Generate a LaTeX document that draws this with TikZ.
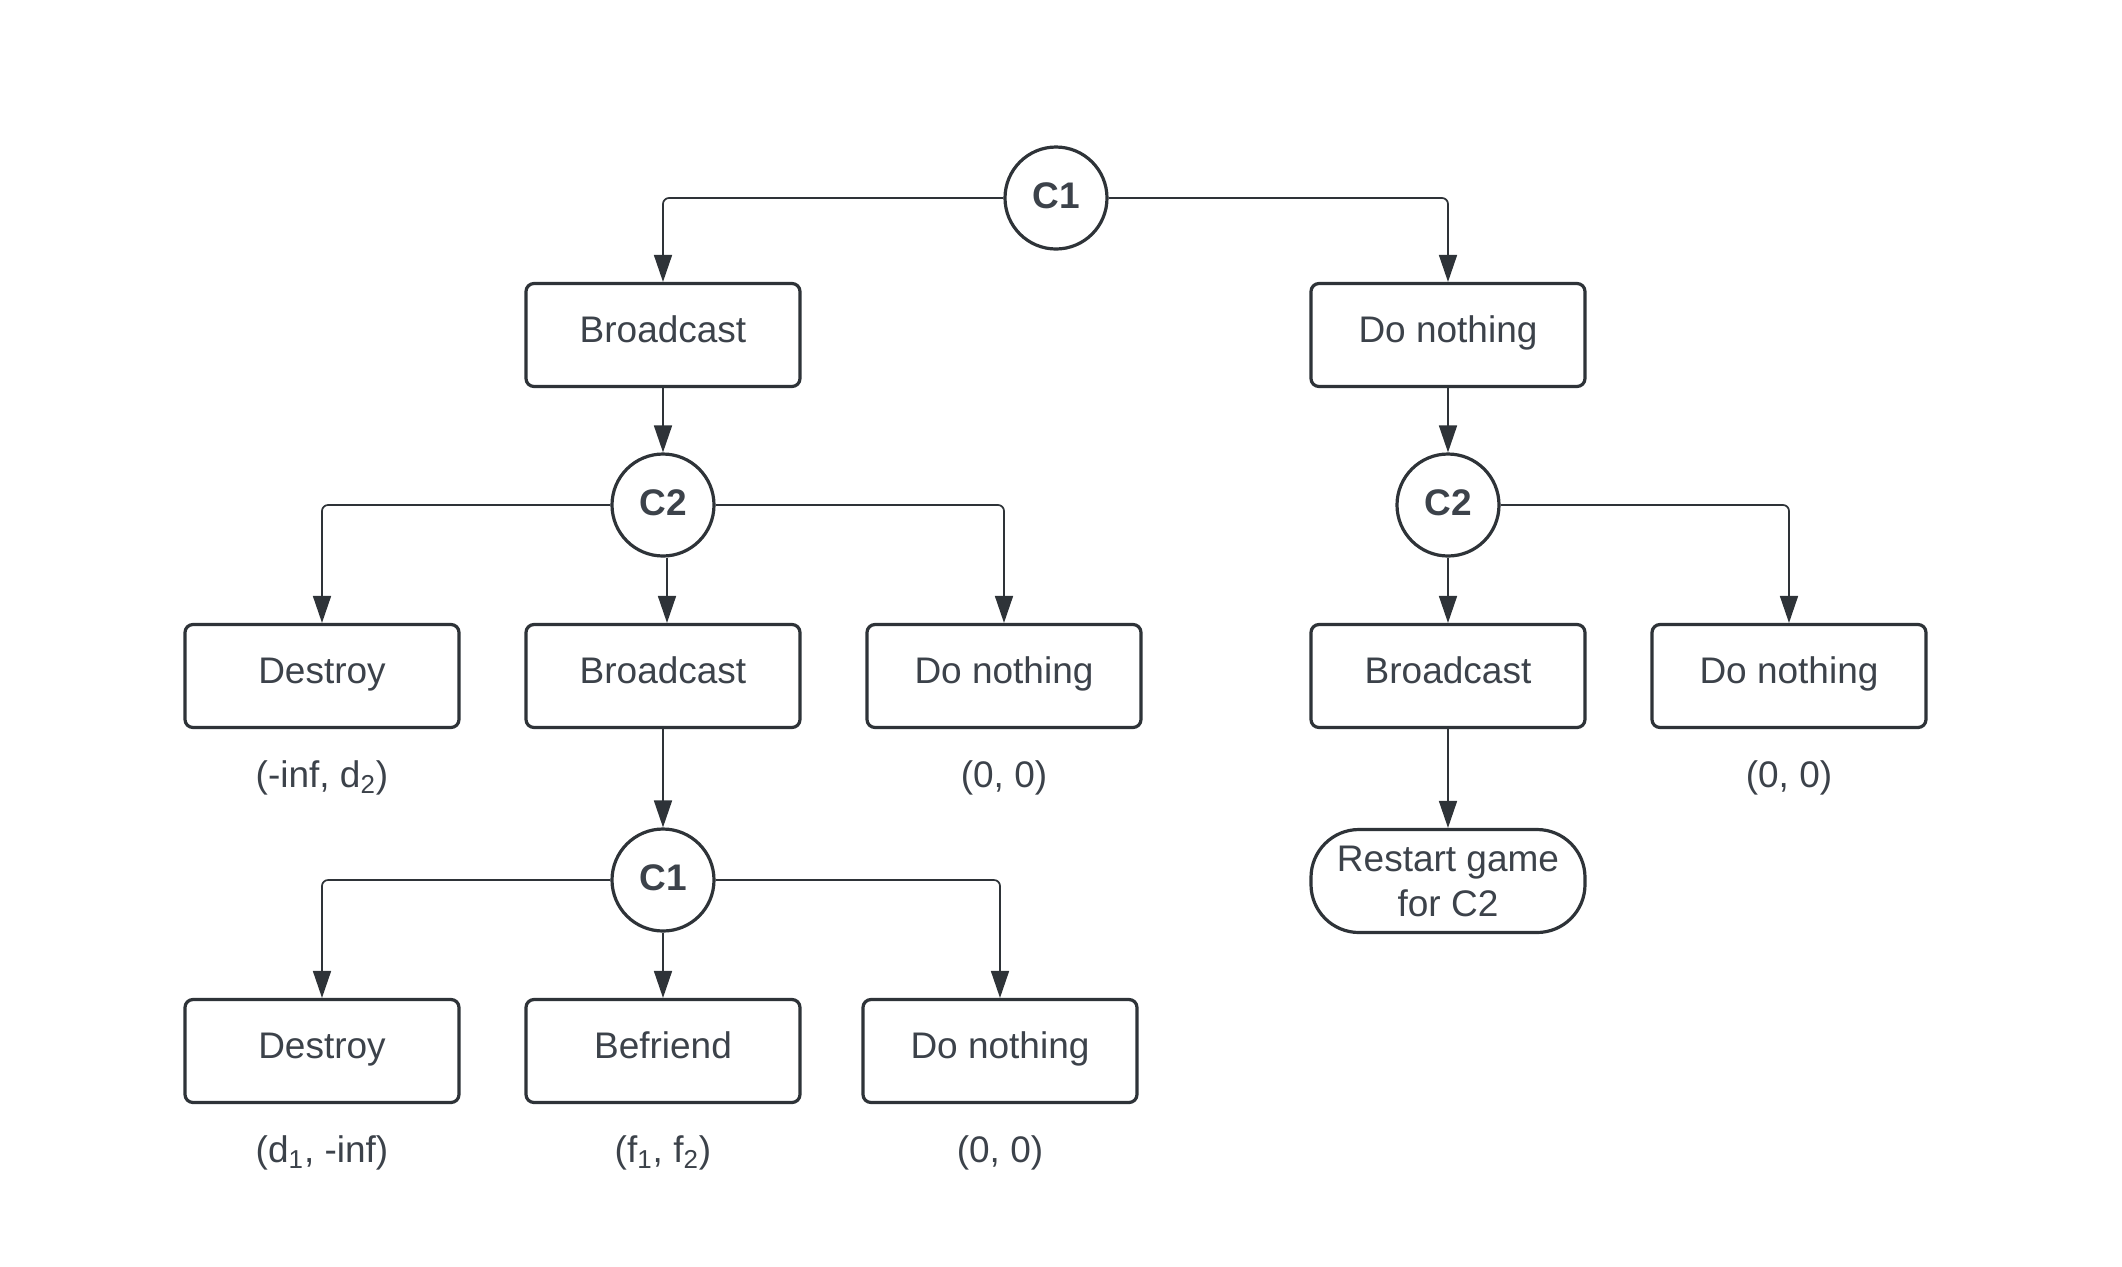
\documentclass[tikz,border=0pt]{standalone}
\usepackage{fontspec}
\setmainfont{Liberation Sans}
\usetikzlibrary{arrows.meta}
\definecolor{linec}{HTML}{2E3338}
\definecolor{textc}{HTML}{3C424A}
\begin{document}
\begin{tikzpicture}[x=0.5pt,y=-0.5pt,
  lbl/.style={text=textc, font=\fontsize{18.5}{22.5}\selectfont},
  box/.style={lbl, draw=linec, line width=1.6pt, rounded corners=4pt, minimum width=137pt, minimum height=51.5pt, inner sep=0pt, text height=14pt, text depth=7pt},
  chance/.style={lbl, circle, draw=linec, line width=1.6pt, minimum size=51pt, inner sep=0pt, text height=14pt, text depth=4pt, font=\fontsize{18.5}{22.5}\selectfont\bfseries},
  pay/.style={lbl, inner sep=0pt},
  conn/.style={draw=linec, line width=0.85pt, rounded corners=3pt, -{Triangle[length=13.5pt,width=9pt]}},
]
\useasboundingbox[fill=white] (0,0) rectangle (2122,1266);

\node[chance] (c1) at (1056,198) {C1};
\node[box] (b1) at (663,335) {Broadcast};
\node[box] (n1) at (1448,335) {Do nothing};
\node[chance] (c2l) at (663,505) {C2};
\node[chance] (c2r) at (1448,505) {C2};

\node[box] (d2) at (322,676) {Destroy};
\node[box] (b2) at (663,676) {Broadcast};
\node[box] (n2) at (1004,676) {Do nothing};
\node[box] (b3) at (1448,676) {Broadcast};
\node[box] (n3) at (1789,676) {Do nothing};

\node[pay] (pd2) at (322,778) {(-inf, d\textsubscript{2})};
\node[pay] (pn2) at (1004,778) {(0, 0)};
\node[pay] (pn3) at (1789,778) {(0, 0)};

\node[chance] (c1b) at (663,880) {C1};
\node[lbl, draw=linec, line width=1.6pt, rounded corners=24pt, minimum width=137pt, minimum height=51.5pt, inner sep=0pt, align=center] (r) at (1448,881) {Restart game\\for C2};

\node[box] (d3) at (322,1051) {Destroy};
\node[box] (f3) at (663,1051) {Befriend};
\node[box] (n4) at (1000,1051) {Do nothing};

\node[pay] (pd3) at (322,1153) {(d\textsubscript{1}, -inf)};
\node[pay] (pf3) at (663,1153) {(f\textsubscript{1}, f\textsubscript{2})};
\node[pay] (pn4) at (1000,1153) {(0, 0)};

\draw[conn] (c1.west) -| (b1.north);
\draw[conn] (c1.east) -| (n1.north);
\draw[conn] (b1.south) -- (c2l.north);
\draw[conn] (n1.south) -- (c2r.north);
\draw[conn] (c2l.west) -| (d2.north);
\draw[conn] ([xshift=2pt]c2l.south) -- ([xshift=2pt]b2.north);
\draw[conn] (c2l.east) -| (n2.north);
\draw[conn] (c2r.south) -- (b3.north);
\draw[conn] (c2r.east) -| (n3.north);
\draw[conn] (b2.south) -- (c1b.north);
\draw[conn] (b3.south) -- (r.north);
\draw[conn] (c1b.west) -| (d3.north);
\draw[conn] (c1b.south) -- (f3.north);
\draw[conn] (c1b.east) -| (n4.north);
\end{tikzpicture}
\end{document}
